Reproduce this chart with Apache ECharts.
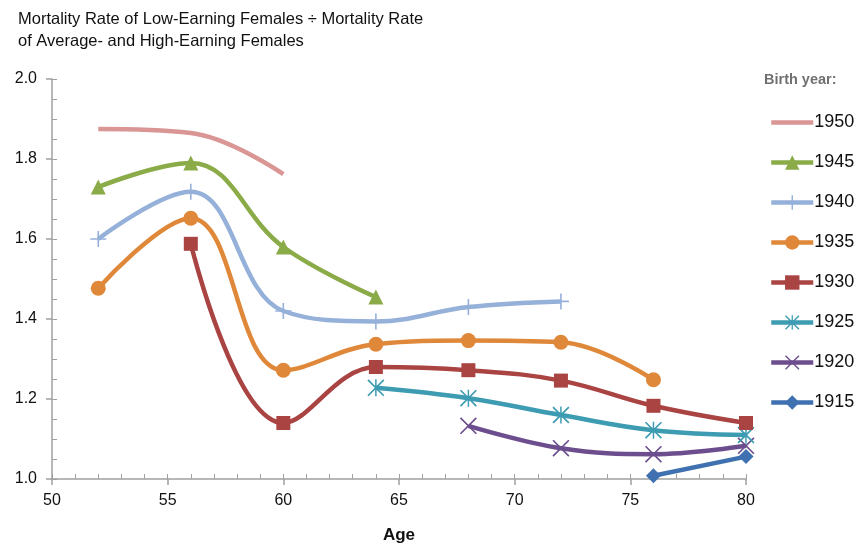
<!DOCTYPE html>
<html><head><meta charset="utf-8">
<script src="https://cdn.jsdelivr.net/npm/echarts@6/dist/echarts.min.js"></script>
<style>html,body{margin:0;padding:0;background:#fff}#c{width:859px;height:548px}</style>
</head><body><div id="c"></div>
<script>
const ages = [52, 56, 60, 64, 68, 72, 76, 80];
const birthYears = ['1950', '1945', '1940', '1935', '1930', '1925', '1920', '1915'];
const v1950 = [1.875, 1.865, 1.762, null, null, null, null, null];
const v1945 = [1.730, 1.790, 1.580, 1.455, null, null, null, null];
const v1940 = [1.600, 1.718, 1.420, 1.394, 1.430, 1.444, null, null];
const v1935 = [1.477, 1.652, 1.272, 1.337, 1.346, 1.342, 1.248, null];
const v1930 = [null, 1.588, 1.140, 1.280, 1.272, 1.246, 1.183, 1.140];
const v1925 = [null, null, null, 1.228, 1.202, 1.160, 1.122, 1.110];
const v1920 = [null, null, null, null, 1.133, 1.077, 1.062, 1.083];
const v1915 = [null, null, null, null, null, null, 1.008, 1.056];
const yTicks = ['1.0', '1.2', '1.4', '1.6', '1.8', '2.0'];

const values = [v1950, v1945, v1940, v1935, v1930, v1925, v1920, v1915];
const colors = ['#d99694', '#8aab47', '#95b0d9', '#e0883a', '#a94443', '#3d9bb2', '#6c4e8e', '#3f71b0'];
const plusPath = 'path://M7.2,0 H8.8 V7.2 H16 V8.8 H8.8 V16 H7.2 V8.8 H0 V7.2 H7.2 Z';
const xPath = 'path://M0,1.1 L1.1,0 L16,14.9 L14.9,16 Z M14.9,0 L16,1.1 L1.1,16 L0,14.9 Z';
const starPath = 'path://M0,1.1 L1.1,0 L16,14.9 L14.9,16 Z M14.9,0 L16,1.1 L1.1,16 L0,14.9 Z M7.3,0 H8.7 V16 H7.3 Z';
const symbols = ['none', 'triangle', plusPath, 'circle', 'rect', starPath, xPath, 'diamond'];
const sizes = [0, 15, 16, 15, 14, 17, 17, 15];

const series = birthYears.map((name, i) => ({
  name: name,
  type: 'line',
  smooth: 0.4,
  data: ages.map((a, j) => values[i][j] == null ? null : [a, values[i][j]]).filter(d => d),
  symbol: symbols[i],
  symbolSize: sizes[i],
  showSymbol: symbols[i] !== 'none',
  lineStyle: { color: colors[i], width: 4.5 },
  itemStyle: { color: colors[i] },
  emphasis: { disabled: true },
  z: 10 - i
}));

const FONT = 'Liberation Sans, Arial, sans-serif';
const chart = echarts.init(document.getElementById('c'), null, { renderer: 'canvas' });
chart.setOption({
  animation: false,
  textStyle: { fontFamily: FONT },
  title: {
    text: 'Mortality Rate of Low-Earning Females ÷ Mortality Rate\nof Average- and High-Earning Females',
    left: 13, top: 3,
    textStyle: { fontSize: 16.5, fontWeight: 'normal', color: '#111', lineHeight: 22, fontFamily: FONT }
  },
  graphic: [{
    type: 'text', left: 764, top: 72,
    style: { text: 'Birth year:', fontSize: 14.5, fontWeight: 'bold', fill: '#707070', fontFamily: FONT, shadowBlur: 3, shadowColor: 'rgba(0,0,0,0.3)' }
  }],
  legend: {
    orient: 'vertical', left: 769, top: 113.5, padding: 0,
    itemWidth: 42, itemHeight: 18, itemGap: 22,
    lineStyle: { width: 4.5 },
    textStyle: { fontSize: 18, color: '#111', padding: [0, 0, 0, -4] },
    data: birthYears.map((n, i) => i === 0 ? { name: n, itemStyle: { opacity: 0 } } : n)
  },
  grid: { left: 52, right: 113, top: 79, bottom: 69, outerBoundsMode: 'none' },
  xAxis: [{
    type: 'value', min: 50, max: 80, interval: 5,
    name: 'Age', nameLocation: 'middle', nameGap: 48,
    nameTextStyle: { fontSize: 17, fontWeight: 'bold', color: '#111' },
    axisLine: { lineStyle: { color: '#a0a0a0', width: 1.5 } },
    axisTick: { show: true, inside: false, length: 6, lineStyle: { color: '#a0a0a0', width: 1.5 } },
    axisLabel: { fontSize: 16, color: '#111', margin: 14 },
    splitLine: { show: false }
  }, {
    type: 'value', min: 50, max: 80, interval: 1, position: 'bottom',
    axisLine: { show: false },
    axisTick: { show: true, inside: true, length: 5, lineStyle: { color: '#a0a0a0', width: 1 } },
    axisLabel: { show: false }, splitLine: { show: false }
  }],
  yAxis: [{
    type: 'value', min: 1.0, max: 2.0, interval: 0.2,
    axisLine: { show: true, lineStyle: { color: '#a0a0a0', width: 1.5 } },
    axisTick: { show: true, inside: false, length: 6, lineStyle: { color: '#a0a0a0', width: 1.5 } },
    axisLabel: { fontSize: 16, color: '#111', margin: 15, formatter: (v) => yTicks[Math.round((v - 1) / 0.2)] },
    splitLine: { show: false }
  }, {
    type: 'value', min: 1.0, max: 2.0, interval: 0.05, position: 'left',
    axisLine: { show: false },
    axisTick: { show: true, inside: true, length: 5, lineStyle: { color: '#a0a0a0', width: 1 } },
    axisLabel: { show: false }, splitLine: { show: false }
  }],
  series: series
});
</script></body></html>
